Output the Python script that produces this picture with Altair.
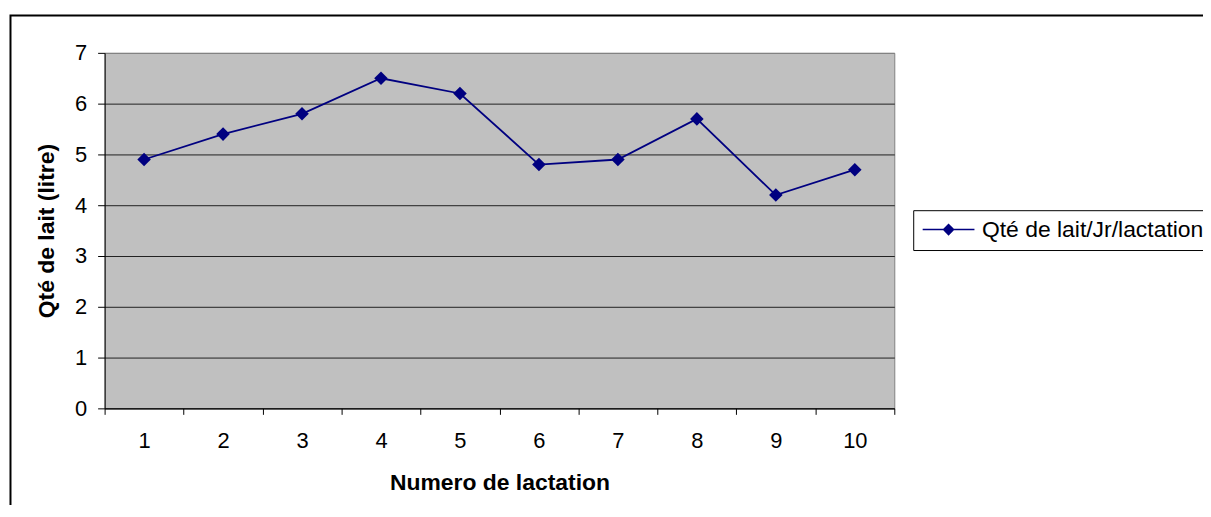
import altair as alt
import pandas as pd

# Data
lactation = ["1", "2", "3", "4", "5", "6", "7", "8", "9", "10"]
milk = [4.9, 5.4, 5.8, 6.5, 6.2, 4.8, 4.9, 5.7, 4.2, 4.7]
series_name = "Qté de lait/Jr/lactation"
y_ticks = [0, 1, 2, 3, 4, 5, 6, 7]

df = pd.DataFrame({"lactation": lactation, "milk": milk, "serie": [series_name] * len(lactation)})

FONT = "Liberation Sans"
NAVY = "#000080"

x_enc = alt.X(
    "lactation:N",
    sort=lactation,
    scale=alt.Scale(type="band", paddingInner=0, paddingOuter=0),
    axis=alt.Axis(
        title="Numero de lactation",
        labelAngle=0,
        tickBand="extent",
        tickSize=6,
        tickColor="black",
        domainColor="black",
        labelPadding=16,
        labelFontSize=22,
        labelColor="black",
        labelFont=FONT,
        titleFont=FONT,
        titleFontSize=23,
        titleFontWeight="bold",
        titleColor="black",
        titlePadding=20,
        grid=False,
    ),
)

y_enc = alt.Y(
    "milk:Q",
    scale=alt.Scale(domain=[0, 7], nice=False, zero=True),
    axis=alt.Axis(
        title="Qté de lait (litre)",
        values=y_ticks,
        format="d",
        tickSize=7,
        tickColor="black",
        domainColor="black",
        labelPadding=11,
        labelFontSize=22,
        labelColor="black",
        labelFont=FONT,
        labelFlush=False,
        labelOverlap=False,
        titleFont=FONT,
        titleFontSize=23,
        titleFontWeight="bold",
        titleColor="black",
        titlePadding=16,
        grid=True,
        gridColor={"condition": {"test": "datum.value === 7", "value": "#808080"}, "value": "#202020"},
        gridWidth=1,
    ),
)

color_enc = alt.Color(
    "serie:N",
    scale=alt.Scale(domain=[series_name], range=[NAVY]),
    legend=alt.Legend(
        title=None,
        orient="none",
        legendX=812,
        legendY=158,
        symbolType="M-1,0H4.2M1.1,0L1.6,-0.5L2.1,0L1.6,0.5Z",
        symbolSize=400,
        symbolStrokeWidth=1.5,
        symbolFillColor=NAVY,
        symbolStrokeColor=NAVY,
        labelFont=FONT,
        labelFontSize=23,
        labelColor="black",
        labelLimit=500,
        labelOffset=38,
        padding=8,
        strokeColor="black",
        fillColor="white",
        cornerRadius=0,
    ),
)

line = alt.Chart(df).mark_line(strokeWidth=1.8).encode(x=x_enc, y=y_enc, color=color_enc)
points = alt.Chart(df).mark_point(shape="diamond", filled=True, size=185, opacity=1, color=NAVY).encode(
    x=x_enc, y=y_enc
)

border = alt.Chart(pd.DataFrame({"k": [0]})).mark_rect(
    fill="transparent", stroke="black", strokeWidth=2
).encode(
    x=alt.value(-94.5), y=alt.value(-37.5), x2=alt.value(1130), y2=alt.value(490)
)

chart = (
    alt.layer(border, line, points)
    .properties(
        width=793,
        height=357,
        autosize=alt.AutoSizeParams(type="none"),
        padding={"left": 97, "top": 44, "right": 310, "bottom": 96},
        background="white",
    )
    .configure_view(fill="#C0C0C0", stroke="#808080", strokeWidth=1)
)

chart.save("out.html", embed_options={"renderer": "svg", "actions": False})
